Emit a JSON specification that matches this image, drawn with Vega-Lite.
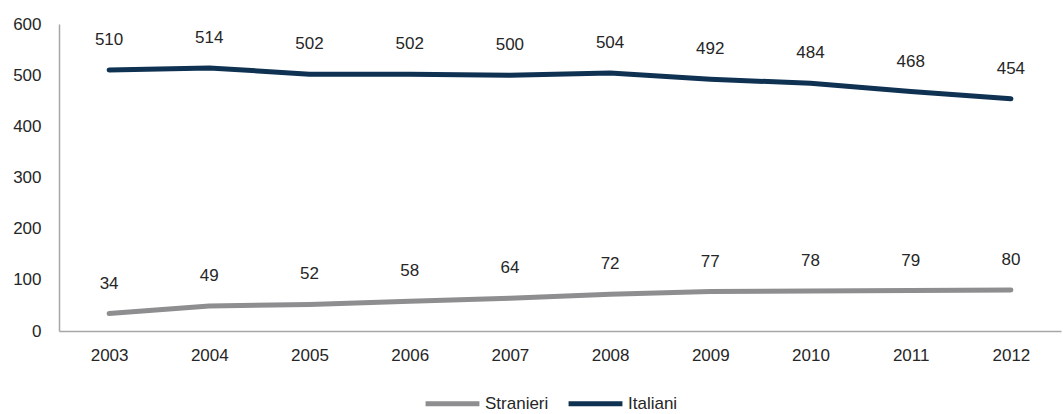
{
  "$schema": "https://vega.github.io/schema/vega-lite/v6.json",
  "autosize": {"type": "none"},
  "width": 1002,
  "height": 307,
  "padding": {"left": 59, "top": 24, "right": 2, "bottom": 83},
  "background": "white",
  "config": {
    "view": {"stroke": null},
    "font": "Liberation Sans",
    "axis": {"grid": false, "ticks": false, "domainColor": "#a6a6a6", "domainWidth": 1.5, "labelFont": "Liberation Sans", "labelFontSize": 17, "labelColor": "#262626", "labelOverlap": false},
    "legend": {"labelFont": "Liberation Sans", "labelFontSize": 17, "labelColor": "#262626"}
  },
  "data": {"values": [
    {"anno": "2003", "serie": "Italiani", "valore": 510},
    {"anno": "2004", "serie": "Italiani", "valore": 514},
    {"anno": "2005", "serie": "Italiani", "valore": 502},
    {"anno": "2006", "serie": "Italiani", "valore": 502},
    {"anno": "2007", "serie": "Italiani", "valore": 500},
    {"anno": "2008", "serie": "Italiani", "valore": 504},
    {"anno": "2009", "serie": "Italiani", "valore": 492},
    {"anno": "2010", "serie": "Italiani", "valore": 484},
    {"anno": "2011", "serie": "Italiani", "valore": 468},
    {"anno": "2012", "serie": "Italiani", "valore": 454},
    {"anno": "2003", "serie": "Stranieri", "valore": 34},
    {"anno": "2004", "serie": "Stranieri", "valore": 49},
    {"anno": "2005", "serie": "Stranieri", "valore": 52},
    {"anno": "2006", "serie": "Stranieri", "valore": 58},
    {"anno": "2007", "serie": "Stranieri", "valore": 64},
    {"anno": "2008", "serie": "Stranieri", "valore": 72},
    {"anno": "2009", "serie": "Stranieri", "valore": 77},
    {"anno": "2010", "serie": "Stranieri", "valore": 78},
    {"anno": "2011", "serie": "Stranieri", "valore": 79},
    {"anno": "2012", "serie": "Stranieri", "valore": 80}
  ]},
  "encoding": {
    "x": {"field": "anno", "type": "ordinal", "scale": {"type": "point", "padding": 0.5}, "axis": {"title": null, "labelAngle": 0, "labelPadding": 16}},
    "y": {"field": "valore", "type": "quantitative", "scale": {"domain": [0, 600]}, "axis": {"title": null, "values": [0, 100, 200, 300, 400, 500, 600], "labelPadding": 18}}
  },
  "layer": [
    {
      "mark": {"type": "line", "strokeWidth": 5, "strokeCap": "round", "strokeJoin": "round"},
      "encoding": {
        "color": {"field": "serie", "type": "nominal", "sort": ["Stranieri", "Italiani"],
          "scale": {"domain": ["Stranieri", "Italiani"], "range": ["#8e8e91", "#0f3152"]},
          "legend": {"title": null, "orient": "none", "direction": "horizontal", "legendX": 364, "legendY": 350, "symbolType": "stroke", "symbolStrokeWidth": 5, "symbolSize": 2900, "labelOffset": 3, "columnPadding": 9}}
      }
    },
    {
      "mark": {"type": "text", "dy": -30, "fontSize": 17, "color": "#262626", "font": "Liberation Sans"},
      "encoding": {"text": {"field": "valore", "type": "quantitative"}, "detail": {"field": "serie"}}
    }
  ]
}
